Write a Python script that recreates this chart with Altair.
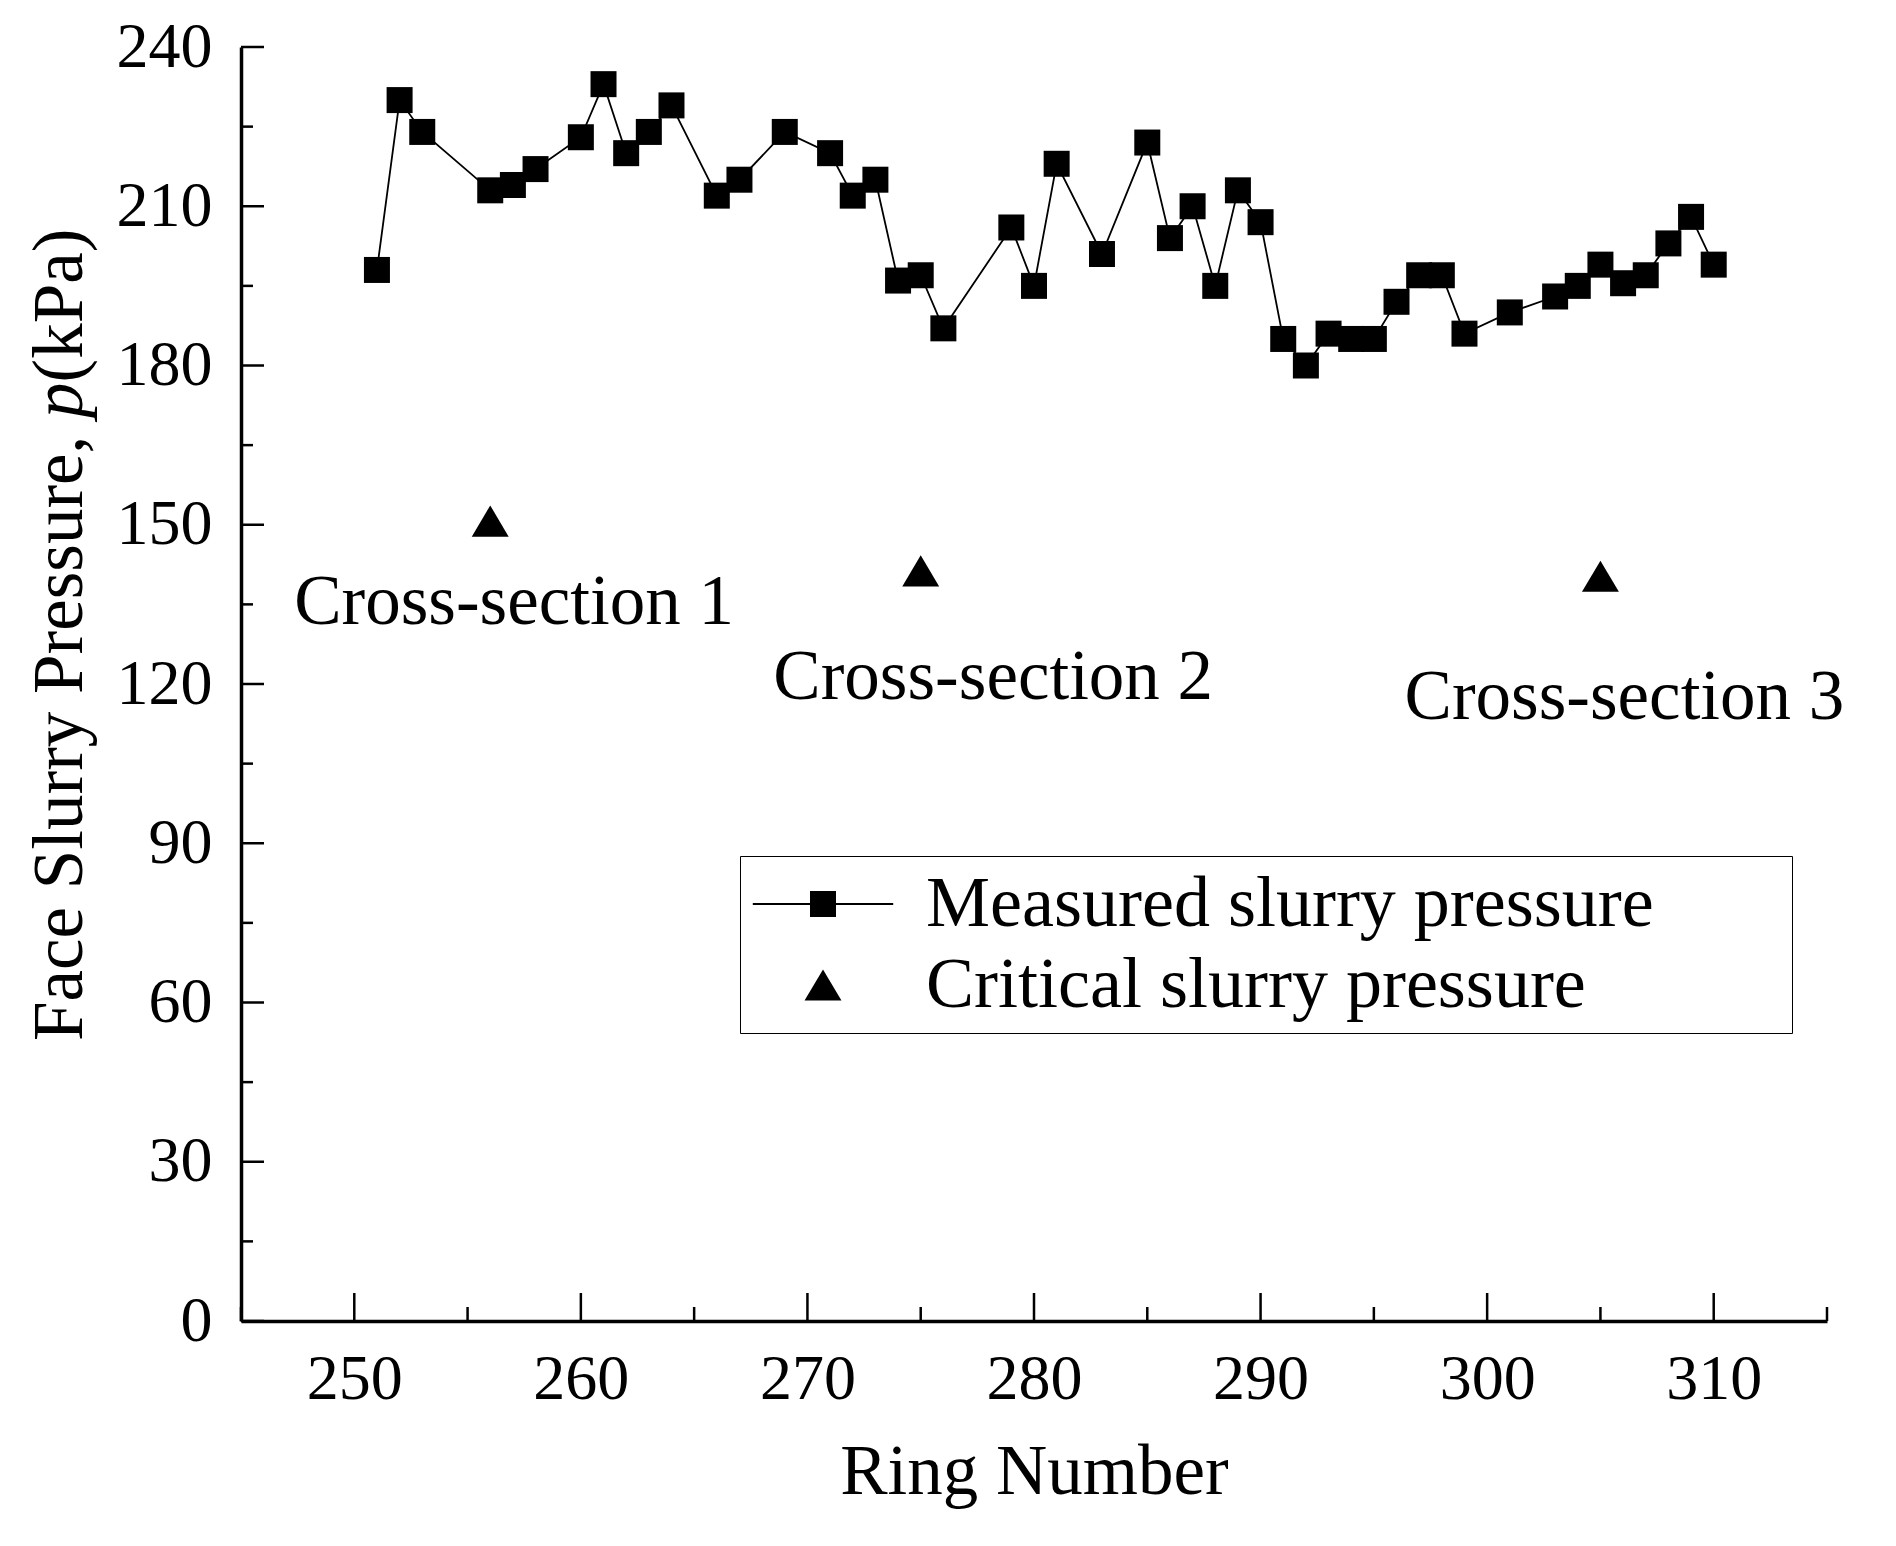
import altair as alt
import pandas as pd

# ---- data ----
measured_ring = [251, 252, 253, 256, 257, 258, 260, 261, 262, 263, 264, 266, 267, 269,
                 271, 272, 273, 274, 275, 276, 279, 280, 281, 283, 285, 286, 287, 288,
                 289, 290, 291, 292, 293, 294, 295, 296, 297, 298, 299, 301, 303, 304,
                 305, 306, 307, 308, 309, 310]
measured_p = [198, 230, 224, 213, 214, 217, 223, 233, 220, 224, 229, 212, 215, 224,
              220, 212, 215, 196, 197, 187, 206, 195, 218, 201, 222, 204, 210, 195,
              213, 207, 185, 180, 186, 185, 185, 192, 197, 197, 186, 190, 193, 195,
              199, 195.5, 197, 203, 208, 199]

critical_ring = [256, 275, 305]
critical_p = [150.7, 141.3, 140.3]

label_text = ["Cross-section 1", "Cross-section 2", "Cross-section 3"]
label_ring = [257.05, 278.2, 306.06]
label_p = [131.3, 117.2, 113.4]

x_major = [250, 260, 270, 280, 290, 300, 310]
x_minor = [245, 255, 265, 275, 285, 295, 305, 315]
y_major = [0, 30, 60, 90, 120, 150, 180, 210, 240]
y_minor = [15, 45, 75, 105, 135, 165, 195, 225]

series_names = ["Measured slurry pressure", "Critical slurry pressure"]

# y-axis title pieces (the "p" is italic)
ytitle_text = ["Face Slurry Pressure,", "p", "(kPa)"]
ytitle_style = ["normal", "italic", "normal"]

FONT = "Liberation Serif"
W, H = 1586, 1274
TITLE_SIZE = 71

# symbol paths (unit = sqrt(size)/2)
SQUARE_PATH = "M-1,-1H1V1H-1Z"
# legend symbol: square with a thin bar through it (bars drawn as filled strips)
SQUARE_LINE_PATH = ("M-5.4,-0.07H-1V0.07H-5.4Z"
                    "M1,-0.07H5.4V0.07H1Z"
                    "M-1,-1H1V1H-1Z")
TRI_PATH = "M0,-1.2L1.42,1.2L-1.42,1.2Z"

meas_df = pd.DataFrame({"ring": measured_ring, "p": measured_p,
                        "series": series_names[0]})
crit_df = pd.DataFrame({"ring": critical_ring, "p": critical_p,
                        "series": series_names[1]})
pts_df = pd.concat([meas_df, crit_df], ignore_index=True)
lab_df = pd.DataFrame({"ring": label_ring, "p": label_p, "text": label_text})

xscale = alt.Scale(domain=[245, 315], nice=False, zero=False)
yscale = alt.Scale(domain=[0, 240], nice=False, zero=False)

x_axis = alt.Axis(values=x_major, title="Ring Number", ticks=False, grid=False,
                  labelFont=FONT, labelFontSize=64, labelPadding=26,
                  titleFont=FONT, titleFontSize=TITLE_SIZE, titleFontWeight="normal",
                  titlePadding=26, domainColor="black", domainWidth=3.5,
                  labelColor="black", titleColor="black", labelFlush=False)
y_axis = alt.Axis(values=y_major, title=None, ticks=False,
                  grid=False, labelFont=FONT, labelFontSize=64, labelPadding=29,
                  domainColor="black", domainWidth=3.5,
                  labelColor="black", labelFlush=False)


def X(field):
    return alt.X(field, scale=xscale, axis=x_axis)


def Y(field):
    return alt.Y(field, scale=yscale, axis=y_axis)


line = alt.Chart(meas_df).mark_line(color="black", strokeWidth=1.8).encode(
    x=X("ring:Q"), y=Y("p:Q"))

squares = alt.Chart(meas_df).mark_point(filled=True, color="black", opacity=1,
                                        size=676, shape=SQUARE_PATH).encode(
    x=X("ring:Q"), y=Y("p:Q"))

triangles = alt.Chart(crit_df).mark_point(filled=True, color="black", opacity=1,
                                          size=676, shape=TRI_PATH).encode(
    x=X("ring:Q"), y=Y("p:Q"))

# invisible padding so the legend frame is as wide as in the reference
PAD = "\u00a0" * 7 + "\u200b"

# legend-only layer (no rows drawn; legend comes from the explicit scale domain)
legend_layer = alt.Chart(pts_df).transform_filter("datum.ring < 0").mark_point(
    filled=True, color="black", opacity=1, size=676
).encode(
    x=X("ring:Q"), y=Y("p:Q"),
    shape=alt.Shape("series:N",
                    scale=alt.Scale(domain=series_names,
                                    range=[SQUARE_LINE_PATH, TRI_PATH]),
                    legend=alt.Legend(title=None, orient="none", legendX=499, legendY=809,
                                      labelFont=FONT, labelFontSize=72, labelColor="black",
                                      labelExpr="datum.label + '" + PAD + "'",
                                      symbolSize=676, symbolFillColor="black",
                                      symbolStrokeWidth=0, symbolOpacity=1,
                                      symbolOffset=35, labelOffset=67, rowPadding=9,
                                      padding=12, strokeColor="black",
                                      labelLimit=1400)),
)

labels = alt.Chart(lab_df).mark_text(font=FONT, fontSize=71, color="black",
                                     align="center", baseline="alphabetic").encode(
    x=X("ring:Q"), y=Y("p:Q"), text="text:N")

# y-axis title built from three rotated text pieces
title_base = 994          # bottom start of the title, px from plot top
w_part1 = 8.776 * TITLE_SIZE
w_p = 0.5 * TITLE_SIZE
title_y = [title_base, title_base - w_part1, title_base - w_part1 - w_p]
ytitle_layers = []
for txt, sty, yy in zip(ytitle_text, ytitle_style, title_y):
    ytitle_layers.append(
        alt.Chart(pd.DataFrame({"t": [txt]})).mark_text(
            font=FONT, fontSize=TITLE_SIZE, fontStyle=sty, color="black",
            angle=270, align="left", baseline="alphabetic"
        ).encode(text="t:N", x=alt.value(-159), y=alt.value(yy))
    )

xt_major = alt.Chart(pd.DataFrame({"v": x_major})).mark_rule(
    color="black", strokeWidth=2.5).encode(
    x=X("v:Q"), y=alt.value(H), y2=alt.value(H - 28))
xt_minor = alt.Chart(pd.DataFrame({"v": x_minor})).mark_rule(
    color="black", strokeWidth=2.5).encode(
    x=X("v:Q"), y=alt.value(H), y2=alt.value(H - 14))
yt_major = alt.Chart(pd.DataFrame({"v": y_major})).mark_rule(
    color="black", strokeWidth=2.5).encode(
    y=Y("v:Q"), x=alt.value(0), x2=alt.value(23))
yt_minor = alt.Chart(pd.DataFrame({"v": y_minor})).mark_rule(
    color="black", strokeWidth=2.5).encode(
    y=Y("v:Q"), x=alt.value(0), x2=alt.value(12))

chart = alt.layer(line, xt_major, xt_minor, yt_major, yt_minor, squares, triangles,
                  legend_layer, labels, *ytitle_layers).properties(
    width=W, height=H,
    padding={"left": 16, "top": 7, "right": 5, "bottom": 5},
    background="white",
).configure_view(stroke=None)

chart.save("out.html", embed_options={"renderer": "svg", "actions": False})
